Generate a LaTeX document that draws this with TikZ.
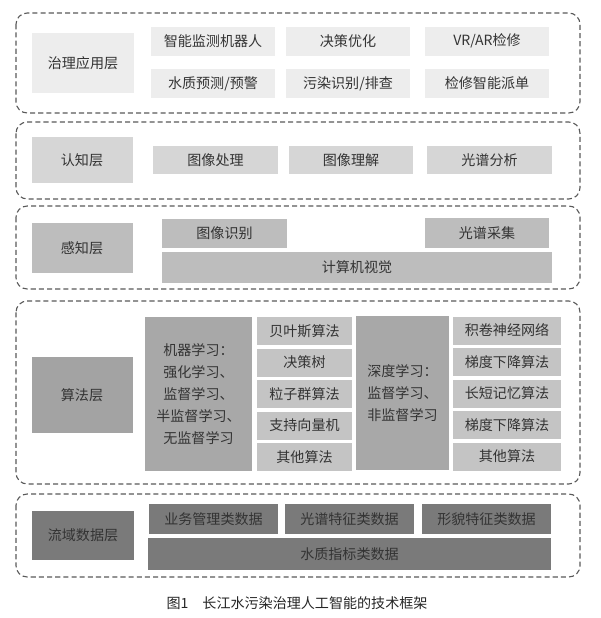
\documentclass[tikz,border=0pt]{standalone}
\usepackage{fontspec}
\setmainfont{Noto Sans CJK SC}
\usepackage{tikz}

\begin{document}
\begin{tikzpicture}[x=0.025cm, y=-0.025cm,
  font=\fontsize{10}{15.6}\selectfont,
  frame/.style={draw=black!65, line width=0.8pt, dash pattern=on 3.6pt off 2.2pt, rounded corners=8pt},
  cell/.style={inner sep=0pt, text=black!80, minimum width=#1*0.025cm},
  cell/.default=124,
  ht/.style={minimum height=#1*0.025cm},
  ht/.default=29]

\useasboundingbox (0,0) rectangle (600,618);

%% ===================== Layer 1: application =====================
\begin{scope}[every node/.append style={fill=black!7}]
  \draw[frame] (16,13) rectangle (580,113);
  \node[cell=102, ht=60] (app) at (83,63) {治理应用层};
  % two rows of application items
  \node[cell, ht] (robot)   at (213,41)   {智能监测机器人};
  \node[cell, ht] (decide)  at (348,41)   {决策优化};
  \node[cell, ht] (vrar)    at (487,41)   {VR/AR检修};
  \node[cell, ht] (predict) at (213,83.5) {水质预测/预警};
  \node[cell, ht] (pollute) at (348,83.5) {污染识别/排查};
  \node[cell, ht] (dispatch) at (487,83.5) {检修智能派单};
\end{scope}

%% ===================== Layer 2: cognition =====================
\begin{scope}[every node/.append style={fill=black!16}]
  \draw[frame] (16,122) rectangle (580,199);
  \node[cell=101, ht=46] (cog) at (82,160) {认知层};
  \node[cell=125, ht=28] (imgproc)  at (215.5,160) {图像处理};
  \node[cell=124, ht=28] (imgunder) at (351,160)   {图像理解};
  \node[cell=125, ht=28] (spec)     at (489.5,160) {光谱分析};
\end{scope}

%% ===================== Layer 3: perception =====================
\begin{scope}[every node/.append style={fill=black!26}]
  \draw[frame] (16,206) rectangle (580,289);
  \node[cell=101, ht=50] (sen) at (82,248) {感知层};
  \node[cell=125, ht=29] (imgrec)  at (224.5,233.5) {图像识别};
  \node[cell=124, ht=30] (speccol) at (487,233)     {光谱采集};
  \node[cell=390, ht=31] (cv)      at (357,267.5)   {计算机视觉};
\end{scope}

%% ===================== Layer 4: algorithms =====================
\draw[frame] (16,301) rectangle (580,484);
\node[cell=101, ht=76, fill=black!36] (alg) at (82,395) {算法层};

% machine learning block and its algorithms
\node[cell=107, ht=154, fill=black!34, align=center] (ml) at (198.5,394)
  {机器学习：\\强化学习、\\监督学习、\\半监督学习、\\无监督学习};
\foreach \t [count=\i] in {贝叶斯算法,决策树,粒子群算法,支持向量机,其他算法}
  \node[cell=95, ht=28, fill=black!23] (mlalg\i) at (304.5,{299.5+31.5*\i}) {\t};

% deep learning block and its algorithms
\node[cell=93, ht=154, fill=black!34, align=left] (dl) at (402.5,393)
  {深度学习：\\监督学习、\\非监督学习};
\foreach \t [count=\i] in {积卷神经网络,梯度下降算法,长短记忆算法,梯度下降算法,其他算法}
  \node[cell=108, ht=28, fill=black!23] (dlalg\i) at (507,{299+31.5*\i}) {\t};

%% ===================== Layer 5: basin data =====================
\begin{scope}[every node/.append style={fill=black!52, text=white}]
  \draw[frame] (16,494) rectangle (580,577);
  \node[cell=102, ht=49] (data) at (83,535.5) {流域数据层};
  \node[cell=129, ht=30] (biz)   at (213.5,519) {业务管理类数据};
  \node[cell=129, ht=30] (specd) at (349.5,519) {光谱特征类数据};
  \node[cell=129, ht=30] (morph) at (486.5,519) {形貌特征类数据};
  \node[cell=403, ht=32] (water) at (349.5,554) {水质指标类数据};
\end{scope}

% caption
\node[text=black!85] (caption) at (297,603) {图1\quad 长江水污染治理人工智能的技术框架};

\end{tikzpicture}
\end{document}
